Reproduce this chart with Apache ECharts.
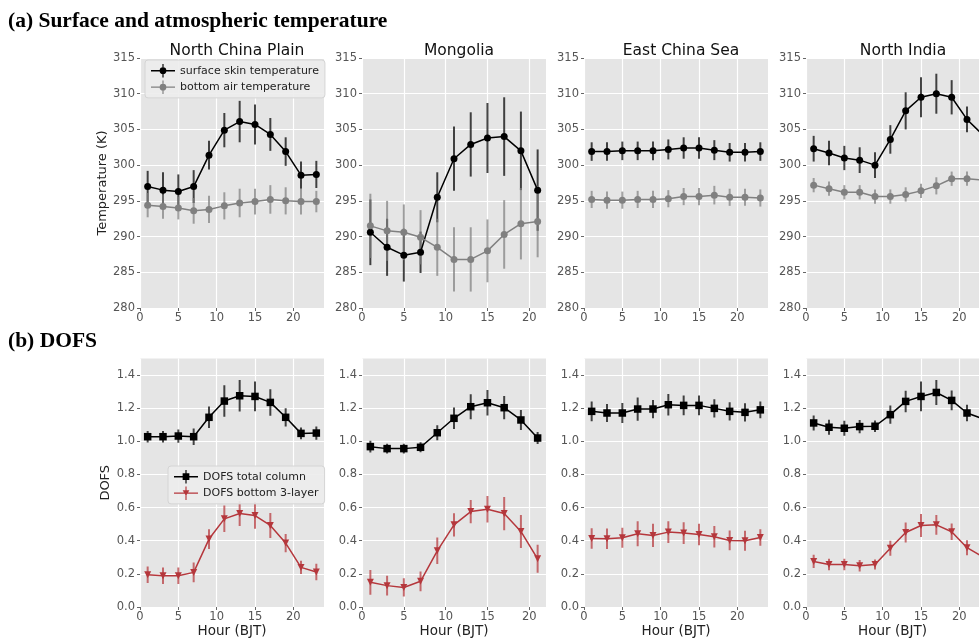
<!DOCTYPE html>
<html>
<head>
<meta charset="utf-8">
<script src="https://cdn.jsdelivr.net/npm/echarts@6/dist/echarts.min.js"></script>
<style>
  html, body { margin: 0; padding: 0; background: #fff; }
  #chart { width: 979px; height: 640px; }
</style>
</head>
<body>
<div id="chart"></div>
<script>
// Diurnal cycle (hour of day, BJT) for four regions
const regions = ['North China Plain', 'Mongolia', 'East China Sea', 'North India'];
const hours = [1, 3, 5, 7, 9, 11, 13, 15, 17, 19, 21, 23];
const hoursMongolia = [1, 3, 5, 7, 9, 11, 13, 15, 17, 19, 21];
const xMax = [24, 22, 24, 24];

const tempTicks = [280, 285, 290, 295, 300, 305, 310, 315];
const dofsTicks = [0.0, 0.2, 0.4, 0.6, 0.8, 1.0, 1.2, 1.4];
const hourTicks = [0, 5, 10, 15, 20];

// (a) surface skin temperature (K), mean and spread
const ncpSkin = [297.0, 296.5, 296.3, 297.0, 301.4, 304.9, 306.1, 305.7, 304.3, 301.9, 298.6, 298.7];
const ncpSkinErr = [2.2, 2.5, 2.4, 2.3, 2.0, 2.4, 2.9, 2.8, 2.3, 2.0, 1.9, 1.9];
const mngSkin = [290.6, 288.5, 287.4, 287.8, 295.5, 300.9, 302.9, 303.8, 304.0, 302.0, 296.5];
const mngSkinErr = [4.6, 4.0, 3.7, 2.9, 3.5, 4.5, 4.5, 4.9, 5.5, 5.5, 5.7];
const ecsSkin = [301.9, 301.9, 302.0, 302.0, 302.0, 302.2, 302.4, 302.4, 302.1, 301.8, 301.8, 301.9];
const ecsSkinErr = [1.3, 1.3, 1.3, 1.3, 1.3, 1.4, 1.5, 1.5, 1.4, 1.3, 1.3, 1.3];
const indSkin = [302.3, 301.7, 301.0, 300.7, 300.0, 303.6, 307.6, 309.5, 310.0, 309.5, 306.4, 304.3];
const indSkinErr = [1.8, 1.7, 1.7, 1.8, 1.8, 2.0, 2.6, 2.8, 2.8, 2.4, 1.8, 2.0];

// (a) bottom air temperature (K)
const ncpAir = [294.4, 294.2, 294.0, 293.6, 293.8, 294.3, 294.7, 294.9, 295.2, 295.0, 294.9, 294.9];
const ncpAirErr = [1.7, 1.7, 1.6, 1.8, 1.9, 1.9, 2.0, 1.8, 2.0, 1.9, 1.8, 1.5];
const mngAir = [291.5, 290.8, 290.6, 289.9, 288.5, 286.8, 286.8, 288.0, 290.3, 291.8, 292.1];
const mngAirErr = [4.5, 4.2, 3.9, 3.8, 4.0, 4.5, 4.5, 4.4, 4.8, 5.0, 5.0];
const ecsAir = [295.2, 295.1, 295.1, 295.2, 295.2, 295.3, 295.6, 295.6, 295.8, 295.5, 295.5, 295.4];
const ecsAirErr = [1.2, 1.2, 1.2, 1.2, 1.2, 1.2, 1.2, 1.2, 1.3, 1.2, 1.2, 1.2];
const indAir = [297.2, 296.7, 296.2, 296.2, 295.6, 295.6, 295.9, 296.4, 297.1, 298.1, 298.1, 297.9];
const indAirErr = [1.0, 1.0, 1.0, 1.0, 1.0, 1.0, 1.0, 1.0, 1.2, 1.0, 1.0, 1.0];

// (b) degrees of freedom for signal, total column
const ncpTotal = [1.028, 1.028, 1.032, 1.028, 1.145, 1.243, 1.275, 1.271, 1.235, 1.145, 1.048, 1.050];
const ncpTotalErr = [0.035, 0.035, 0.04, 0.05, 0.065, 0.095, 0.095, 0.09, 0.08, 0.055, 0.035, 0.04];
const mngTotal = [0.968, 0.956, 0.956, 0.964, 1.052, 1.139, 1.209, 1.233, 1.203, 1.129, 1.020];
const mngTotalErr = [0.035, 0.03, 0.03, 0.03, 0.045, 0.065, 0.075, 0.077, 0.07, 0.06, 0.036];
const ecsTotal = [1.181, 1.171, 1.171, 1.195, 1.195, 1.221, 1.217, 1.217, 1.199, 1.181, 1.175, 1.19];
const ecsTotalErr = [0.06, 0.055, 0.06, 0.07, 0.055, 0.065, 0.06, 0.06, 0.055, 0.055, 0.055, 0.05];
const indTotal = [1.111, 1.085, 1.079, 1.089, 1.091, 1.161, 1.241, 1.271, 1.295, 1.247, 1.171, 1.137];
const indTotalErr = [0.045, 0.045, 0.045, 0.04, 0.035, 0.055, 0.065, 0.09, 0.075, 0.06, 0.05, 0.05];

// (b) degrees of freedom for signal, bottom 3 layers
const ncpLow = [0.195, 0.189, 0.189, 0.209, 0.41, 0.532, 0.564, 0.552, 0.492, 0.386, 0.239, 0.211];
const ncpLowErr = [0.05, 0.05, 0.05, 0.06, 0.06, 0.08, 0.075, 0.08, 0.075, 0.055, 0.04, 0.05];
const mngLow = [0.149, 0.129, 0.118, 0.155, 0.339, 0.496, 0.576, 0.59, 0.564, 0.456, 0.291];
const mngLowErr = [0.075, 0.06, 0.055, 0.06, 0.08, 0.07, 0.07, 0.08, 0.1, 0.1, 0.085];
const ecsLow = [0.414, 0.412, 0.418, 0.442, 0.432, 0.452, 0.446, 0.438, 0.424, 0.402, 0.40, 0.42];
const ecsLowErr = [0.062, 0.062, 0.06, 0.075, 0.07, 0.065, 0.065, 0.065, 0.065, 0.06, 0.06, 0.05];
const indLow = [0.275, 0.257, 0.257, 0.249, 0.257, 0.355, 0.45, 0.492, 0.496, 0.454, 0.358, 0.305];
const indLowErr = [0.04, 0.035, 0.035, 0.035, 0.03, 0.045, 0.06, 0.07, 0.06, 0.05, 0.045, 0.04];

const regionHours = [hours, hoursMongolia, hours, hours];
const skinSets = [[ncpSkin, ncpSkinErr], [mngSkin, mngSkinErr], [ecsSkin, ecsSkinErr], [indSkin, indSkinErr]];
const airSets = [[ncpAir, ncpAirErr], [mngAir, mngAirErr], [ecsAir, ecsAirErr], [indAir, indAirErr]];
const totalSets = [[ncpTotal, ncpTotalErr], [mngTotal, mngTotalErr], [ecsTotal, ecsTotalErr], [indTotal, indTotalErr]];
const lowSets = [[ncpLow, ncpLowErr], [mngLow, mngLowErr], [ecsLow, ecsLowErr], [indLow, indLowErr]];

const SANS = 'DejaVu Sans';
const BLACK = '#000000';
const GRAY = '#808080';
const RED = '#b5373c';

const CANVAS_W = 979;
const panelLeft = [140, 362, 584, 806];
const panelWidth = 184;
const topRow = { top: 58, height: 250 };
const bottomRow = { top: 358.5, height: 248.5 };

const grids = [];
const xAxes = [];
const yAxes = [];
const series = [];
const headStyle = { fontFamily: 'Liberation Serif', fontWeight: 'bold', fontSize: 21.5, color: '#000' };
const titles = [
  { text: '(a) Surface and atmospheric temperature', left: 3, top: 5, textStyle: headStyle },
  { text: '(b) DOFS', left: 3, top: 325, textStyle: headStyle }
];

function baseX(gridIndex, max, withName) {
  return {
    type: 'value', gridIndex, min: 0, max, interval: 5,
    name: withName ? 'Hour (BJT)' : '',
    nameLocation: 'middle', nameGap: 17,
    nameTextStyle: { fontFamily: SANS, fontSize: 13.5, color: '#222' },
    axisLine: { show: false },
    axisTick: { show: true, length: 3, lineStyle: { color: '#666' }, customValues: hourTicks },
    axisLabel: { fontFamily: SANS, fontSize: 11.5, color: '#555', margin: 4, customValues: hourTicks },
    splitLine: { show: true, lineStyle: { color: '#ffffff', width: 1.2 } }
  };
}

function baseY(gridIndex, cfg, name) {
  return Object.assign({
    type: 'value', gridIndex,
    name: name || '', nameLocation: 'middle',
    nameTextStyle: { fontFamily: SANS, fontSize: 13, color: '#222' },
    axisLine: { show: false },
    axisTick: { show: true, length: 3, lineStyle: { color: '#666' } },
    splitLine: { show: true, lineStyle: { color: '#ffffff', width: 1.2 } }
  }, cfg);
}

function errorBars(xi, yi, hrs, vals, errs, color) {
  return {
    type: 'custom', xAxisIndex: xi, yAxisIndex: yi, clip: true, z: 2,
    silent: true,
    data: hrs.map((h, i) => [h, vals[i] - errs[i], vals[i] + errs[i]]),
    encode: { x: 0, y: [1, 2] },
    renderItem: function (params, api) {
      const a = api.coord([api.value(0), api.value(1)]);
      const b = api.coord([api.value(0), api.value(2)]);
      return {
        type: 'line',
        shape: { x1: a[0], y1: a[1], x2: b[0], y2: b[1] },
        style: { stroke: color, lineWidth: 2, opacity: 0.72 }
      };
    }
  };
}

function lineSeries(name, xi, yi, hrs, vals, color, symbol, rotate) {
  return {
    type: 'line', name, xAxisIndex: xi, yAxisIndex: yi, z: 3,
    data: hrs.map((h, i) => [h, vals[i]]),
    symbol, symbolSize: symbol === 'rect' ? 7.5 : 7, symbolRotate: rotate || 0,
    showSymbol: true, clip: true,
    lineStyle: { color, width: 1.5 },
    itemStyle: { color },
    emphasis: { disabled: true }
  };
}

regions.forEach((region, c) => {
  const hrs = regionHours[c];
  // the right-most column runs past the page edge: keep its scale and
  // only lay out the part that fits on the page
  const visibleWidth = Math.min(panelWidth, CANVAS_W - panelLeft[c]);
  const axisMax = xMax[c] * visibleWidth / panelWidth;
  grids.push({ left: panelLeft[c], width: visibleWidth, top: topRow.top, height: topRow.height,
    show: true, backgroundColor: '#e5e5e5', borderWidth: 0 });
  grids.push({ left: panelLeft[c], width: visibleWidth, top: bottomRow.top, height: bottomRow.height,
    show: true, backgroundColor: '#e5e5e5', borderWidth: 0 });
  const gT = 2 * c, gB = 2 * c + 1;

  xAxes.push(baseX(gT, axisMax, false));
  xAxes.push(baseX(gB, axisMax, true));

  yAxes.push(baseY(gT, {
    min: tempTicks[0], max: tempTicks[tempTicks.length - 1], interval: 5, nameGap: 31,
    axisLabel: { fontFamily: SANS, fontSize: 11.5, color: '#555', margin: 5 }
  }, c === 0 ? 'Temperature (K)' : ''));
  yAxes.push(baseY(gB, {
    min: 0, max: 1.5, interval: 0.2, nameGap: 28,
    axisLabel: { fontFamily: SANS, fontSize: 11.5, color: '#555', margin: 5,
      customValues: dofsTicks, formatter: v => v.toFixed(1) },
    axisTick: { show: true, length: 3, lineStyle: { color: '#666' }, customValues: dofsTicks }
  }, c === 0 ? 'DOFS' : ''));

  titles.push({ text: region, left: panelLeft[c] + panelWidth / 2, top: 38, textAlign: 'center',
    textStyle: { fontFamily: SANS, fontSize: 15.5, fontWeight: 'normal', color: '#111' } });

  series.push(errorBars(gT, gT, hrs, skinSets[c][0], skinSets[c][1], BLACK));
  series.push(lineSeries('surface skin temperature', gT, gT, hrs, skinSets[c][0], BLACK, 'circle'));
  series.push(errorBars(gT, gT, hrs, airSets[c][0], airSets[c][1], GRAY));
  series.push(lineSeries('bottom air temperature', gT, gT, hrs, airSets[c][0], GRAY, 'circle'));

  series.push(errorBars(gB, gB, hrs, totalSets[c][0], totalSets[c][1], BLACK));
  series.push(lineSeries('DOFS total column', gB, gB, hrs, totalSets[c][0], BLACK, 'rect'));
  series.push(errorBars(gB, gB, hrs, lowSets[c][0], lowSets[c][1], RED));
  series.push(lineSeries('DOFS bottom 3-layer', gB, gB, hrs, lowSets[c][0], RED, 'triangle', 180));
});

// legend handles: line + error bar + marker
const iconCircle = 'path://M0,6.3H25V7.7H0Z M11.9,0H13.1V14H11.9Z M9,7a3.5,3.5 0 1,1 7,0a3.5,3.5 0 1,1 -7,0Z';
const iconSquare = 'path://M0,6.3H25V7.7H0Z M11.9,0H13.1V14H11.9Z M9,3.5H16V10.5H9Z';
const iconTriangle = 'path://M0,6.3H25V7.7H0Z M11.9,0H13.1V14H11.9Z M9,4H16L12.5,10Z';

const legendCommon = {
  orient: 'vertical', selectedMode: false, itemWidth: 24, itemHeight: 14, itemGap: 3,
  padding: [4, 6, 4, 6], backgroundColor: 'rgba(236,236,236,0.9)', borderColor: '#d4d4d4',
  borderWidth: 1, borderRadius: 3,
  textStyle: { fontFamily: SANS, fontSize: 11, color: '#222' }
};

const option = {
  animation: false,
  backgroundColor: '#ffffff',
  title: titles,
  grid: grids,
  xAxis: xAxes,
  yAxis: yAxes,
  legend: [
    Object.assign({}, legendCommon, { left: 145, top: 60, data: [
      { name: 'surface skin temperature', icon: iconCircle },
      { name: 'bottom air temperature', icon: iconCircle }
    ] }),
    Object.assign({}, legendCommon, { left: 168, top: 466, data: [
      { name: 'DOFS total column', icon: iconSquare },
      { name: 'DOFS bottom 3-layer', icon: iconTriangle }
    ] })
  ],
  series
};

const chart = echarts.init(document.getElementById('chart'), null, { renderer: 'canvas' });
chart.setOption(option);
</script>
</body>
</html>
